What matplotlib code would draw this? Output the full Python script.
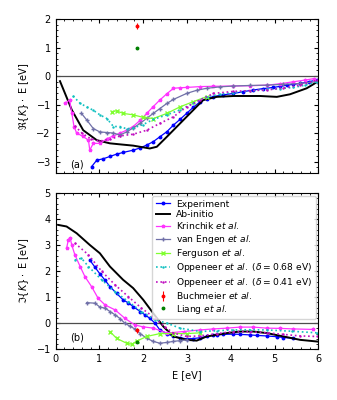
import matplotlib
matplotlib.use('Agg')
import matplotlib.pyplot as plt
from matplotlib.ticker import AutoMinorLocator

plt.rcParams['font.size'] = 7
plt.rcParams['mathtext.fontset'] = 'dejavusans'

# Experiment
exp_E_re = [0.82, 0.94, 1.09, 1.24, 1.39, 1.54, 1.77, 1.93, 2.08, 2.23, 2.38, 2.54, 2.69, 2.84, 2.99, 3.14, 3.30, 3.45, 3.60, 3.83, 4.06, 4.28, 4.51, 4.74, 4.97, 5.13, 5.28, 5.43, 5.58, 5.78, 5.96]
exp_re = [-3.18, -2.95, -2.90, -2.82, -2.74, -2.68, -2.60, -2.52, -2.42, -2.30, -2.13, -1.95, -1.72, -1.52, -1.31, -1.10, -0.90, -0.80, -0.72, -0.66, -0.61, -0.55, -0.49, -0.44, -0.40, -0.36, -0.32, -0.29, -0.26, -0.20, -0.14]
exp_E_im = [0.78, 0.90, 1.01, 1.13, 1.24, 1.39, 1.54, 1.66, 1.77, 1.93, 2.04, 2.15, 2.27, 2.38, 2.54, 2.69, 2.84, 2.99, 3.14, 3.30, 3.45, 3.60, 3.68, 3.83, 4.06, 4.21, 4.44, 4.59, 4.82, 5.05, 5.20, 5.43]
exp_im = [2.43, 2.15, 1.90, 1.65, 1.41, 1.15, 0.90, 0.78, 0.64, 0.45, 0.32, 0.19, 0.0, -0.26, -0.40, -0.51, -0.56, -0.60, -0.59, -0.56, -0.50, -0.46, -0.45, -0.43, -0.42, -0.43, -0.45, -0.47, -0.49, -0.52, -0.55, -0.58]

# Ab-initio
ab_E_re = [0.10, 0.37, 0.63, 0.94, 1.24, 1.50, 1.77, 2.00, 2.15, 2.31, 2.54, 2.99, 3.37, 3.68, 4.06, 4.67, 5.05, 5.35, 5.73, 6.00]
ab_re = [-0.18, -1.19, -1.90, -2.25, -2.36, -2.40, -2.44, -2.50, -2.54, -2.48, -2.13, -1.43, -0.84, -0.73, -0.70, -0.70, -0.73, -0.64, -0.43, -0.18]
ab_E_im = [0.06, 0.25, 0.48, 0.78, 1.01, 1.24, 1.54, 1.77, 2.00, 2.23, 2.46, 2.69, 2.99, 3.22, 3.45, 3.91, 4.21, 4.51, 4.82, 5.20, 5.58, 6.00]
ab_im = [3.78, 3.72, 3.46, 3.01, 2.69, 2.18, 1.67, 1.35, 0.90, 0.38, -0.13, -0.51, -0.64, -0.67, -0.51, -0.38, -0.32, -0.32, -0.38, -0.51, -0.64, -0.71]

# Krinchik et al.
kr_E_re = [0.21, 0.32, 0.37, 0.42, 0.48, 0.63, 0.75, 0.78, 0.86, 1.01, 1.17, 1.32, 1.47, 1.62, 1.77, 1.93, 2.08, 2.23, 2.38, 2.54, 2.69, 2.84, 2.99, 3.30, 3.60, 4.06, 4.44, 4.82, 5.13, 5.43, 5.70, 5.90]
kr_re = [-0.96, -0.84, -1.30, -1.77, -2.00, -2.12, -2.25, -2.60, -2.36, -2.36, -2.20, -2.10, -2.00, -1.90, -1.77, -1.55, -1.31, -1.07, -0.84, -0.62, -0.43, -0.41, -0.40, -0.37, -0.36, -0.35, -0.34, -0.32, -0.27, -0.20, -0.14, -0.09]
kr_E_im = [0.25, 0.29, 0.33, 0.37, 0.44, 0.56, 0.67, 0.82, 0.97, 1.13, 1.36, 1.58, 1.81, 2.00, 2.23, 2.54, 2.92, 3.30, 3.60, 3.91, 4.21, 4.51, 4.82, 5.13, 5.43, 5.88]
kr_im = [2.88, 3.20, 3.29, 3.00, 2.63, 2.18, 1.79, 1.41, 0.96, 0.70, 0.51, 0.19, -0.07, -0.14, -0.19, -0.38, -0.32, -0.26, -0.22, -0.19, -0.15, -0.15, -0.19, -0.20, -0.22, -0.24]

# van Engen et al.
ve_E_re = [0.59, 0.71, 0.86, 1.01, 1.17, 1.32, 1.47, 1.62, 1.77, 1.93, 2.08, 2.23, 2.38, 2.54, 2.69, 2.99, 3.22, 3.45, 3.75, 4.06, 4.44, 4.82, 5.20, 5.58, 5.96]
ve_re = [-1.31, -1.54, -1.84, -1.96, -1.98, -2.00, -2.07, -1.96, -1.82, -1.66, -1.48, -1.31, -1.14, -0.96, -0.82, -0.61, -0.50, -0.43, -0.38, -0.35, -0.33, -0.32, -0.29, -0.26, -0.20]
ve_E_im = [0.71, 0.90, 1.01, 1.13, 1.24, 1.36, 1.47, 1.58, 1.70, 1.81, 1.93, 2.08, 2.23, 2.38, 2.54, 2.69, 2.84, 2.99]
ve_im = [0.79, 0.77, 0.62, 0.58, 0.45, 0.32, 0.18, 0.0, -0.12, -0.22, -0.40, -0.58, -0.70, -0.77, -0.74, -0.70, -0.67, -0.64]

# Ferguson et al.
fe_E_re = [1.28, 1.39, 1.54, 1.77, 2.00, 2.23, 2.54, 2.84, 3.14, 3.45]
fe_re = [-1.25, -1.22, -1.31, -1.36, -1.45, -1.49, -1.31, -1.08, -0.90, -0.72]
fe_E_im = [1.24, 1.39, 1.62, 1.74, 1.85, 2.08, 2.38, 2.69, 2.99, 3.30]
fe_im = [-0.32, -0.58, -0.77, -0.81, -0.69, -0.51, -0.40, -0.40, -0.40, -0.37]

# Oppeneer et al. (delta = 0.68 eV)
op1_E_re = [0.40, 0.56, 0.71, 0.86, 1.01, 1.17, 1.32, 1.47, 1.62, 1.77, 2.00, 2.23, 2.54, 2.84, 3.14, 3.45, 3.75, 4.06, 4.44, 4.82, 5.13, 5.43, 5.70, 5.96]
op1_re = [-0.70, -0.96, -1.08, -1.20, -1.36, -1.49, -1.77, -1.77, -1.85, -1.82, -1.70, -1.52, -1.36, -1.19, -0.96, -0.72, -0.64, -0.58, -0.52, -0.47, -0.44, -0.40, -0.32, -0.20]
op1_E_im = [0.44, 0.59, 0.75, 1.05, 1.36, 1.66, 1.96, 2.27, 2.54, 2.84, 3.30, 3.68, 4.06, 4.44, 4.82, 5.40, 5.96]
op1_im = [2.43, 2.50, 2.18, 1.67, 1.21, 0.83, 0.45, 0.13, 0.0, -0.19, -0.32, -0.29, -0.26, -0.25, -0.26, -0.31, -0.37]

# Oppeneer et al. (delta = 0.41 eV)
op2_E_re = [0.44, 0.60, 0.80, 1.00, 1.24, 1.47, 1.77, 2.08, 2.38, 2.69, 2.99, 3.30, 3.60, 4.06, 4.44, 4.82, 5.20, 5.58, 5.96]
op2_re = [-1.75, -2.00, -2.20, -2.28, -2.22, -2.10, -2.04, -1.90, -1.66, -1.43, -1.08, -0.84, -0.61, -0.54, -0.51, -0.49, -0.42, -0.32, -0.15]
op2_E_im = [0.44, 0.75, 1.05, 1.36, 1.66, 1.96, 2.27, 2.50, 2.69, 2.99, 3.30, 3.68, 4.06, 4.44, 4.82, 5.20, 5.58, 5.96]
op2_im = [3.08, 2.63, 2.00, 1.47, 1.02, 0.58, 0.19, -0.15, -0.38, -0.51, -0.49, -0.40, -0.32, -0.33, -0.37, -0.43, -0.49, -0.51]

# Buchmeier et al. / Liang et al.
bu_E = [1.85]
bu_re = [1.75]
bu_im = [-0.27]
bu_err = [0.1]
li_E = [1.85]
li_re = [1.0]
li_im = [-0.74]

fig = plt.figure(figsize=(3.37, 4.0), dpi=100)
ax1 = fig.add_axes([0.165, 0.5675, 0.78, 0.385])
ax2 = fig.add_axes([0.165, 0.127, 0.78, 0.39])

panels = [
    (ax1, [exp_E_re, ab_E_re, kr_E_re, ve_E_re, fe_E_re, op1_E_re, op2_E_re],
          [exp_re, ab_re, kr_re, ve_re, fe_re, op1_re, op2_re], bu_re, li_re),
    (ax2, [exp_E_im, ab_E_im, kr_E_im, ve_E_im, fe_E_im, op1_E_im, op2_E_im],
          [exp_im, ab_im, kr_im, ve_im, fe_im, op1_im, op2_im], bu_im, li_im),
]

for ax, xs, ys, bu_y, li_y in panels:
    ax.axhline(0, color='0.3', lw=0.9)
    h = []
    h += ax.plot(xs[0], ys[0], '-o', color='blue', ms=1.8, lw=0.9, label='Experiment')
    h += ax.plot(xs[1], ys[1], '-', color='black', lw=1.4, label='Ab-initio')
    h += ax.plot(xs[2], ys[2], '-*', color='#ff33ff', ms=2.5, lw=0.9, label=r'Krinchik $\it{et\ al.}$')
    h += ax.plot(xs[3], ys[3], '-+', color='#7070a8', ms=2.5, lw=0.9, label=r'van Engen $\it{et\ al}$.')
    h += ax.plot(xs[4], ys[4], '-x', color='#80ff30', ms=2.2, lw=0.9, label=r'Ferguson $\it{et\ al.}$')
    h += ax.plot(xs[5], ys[5], ':', marker='.', color='#10c0c0', ms=1.5, lw=1.2, label=r'Oppeneer $\it{et\ al.}$ ($\delta = 0.68$ eV)')
    h += ax.plot(xs[6], ys[6], ':', marker='.', color='#c010c0', ms=1.5, lw=1.2, label=r'Oppeneer $\it{et\ al.}$ ($\delta = 0.41$ eV)')
    h.append(ax.errorbar(bu_E, bu_y, yerr=bu_err, fmt='o', color='red', ms=1.8, elinewidth=0.8, label=r'Buchmeier $\it{et\ al.}$'))
    h += ax.plot(li_E, li_y, 'o', color='green', ms=1.8, label=r'Liang $\it{et\ al.}$')
    ax.set_xlim(0, 6)
    ax.xaxis.set_minor_locator(AutoMinorLocator())
    ax.yaxis.set_minor_locator(AutoMinorLocator())
    ax.tick_params(which='both', direction='in', top=True, right=True, labelsize=7)
    ax.tick_params(which='major', length=3)
    ax.tick_params(which='minor', length=1.5)

ax1.set_ylim(-3.4, 2)
ax1.set_yticks([-3, -2, -1, 0, 1, 2])
ax1.tick_params(labelbottom=False)
ax1.set_ylabel(r'$\Re\{K\}\cdot$ E [eV]', fontsize=7)
ax1.text(0.33, -3.2, '(a)', fontsize=7)

ax2.set_ylim(-1, 5)
ax2.set_ylabel(r'$\Im\{K\}\cdot$ E [eV]', fontsize=7)
ax2.set_xlabel('E [eV]', fontsize=7)
ax2.text(0.33, -0.65, '(b)', fontsize=7)
ax2.legend(handles=h, loc='upper right', fontsize=6.6, handlelength=1.6, handletextpad=0.6,
           labelspacing=0.15, borderpad=0.4, borderaxespad=0.3)

fig.savefig('out.png', dpi=100)
